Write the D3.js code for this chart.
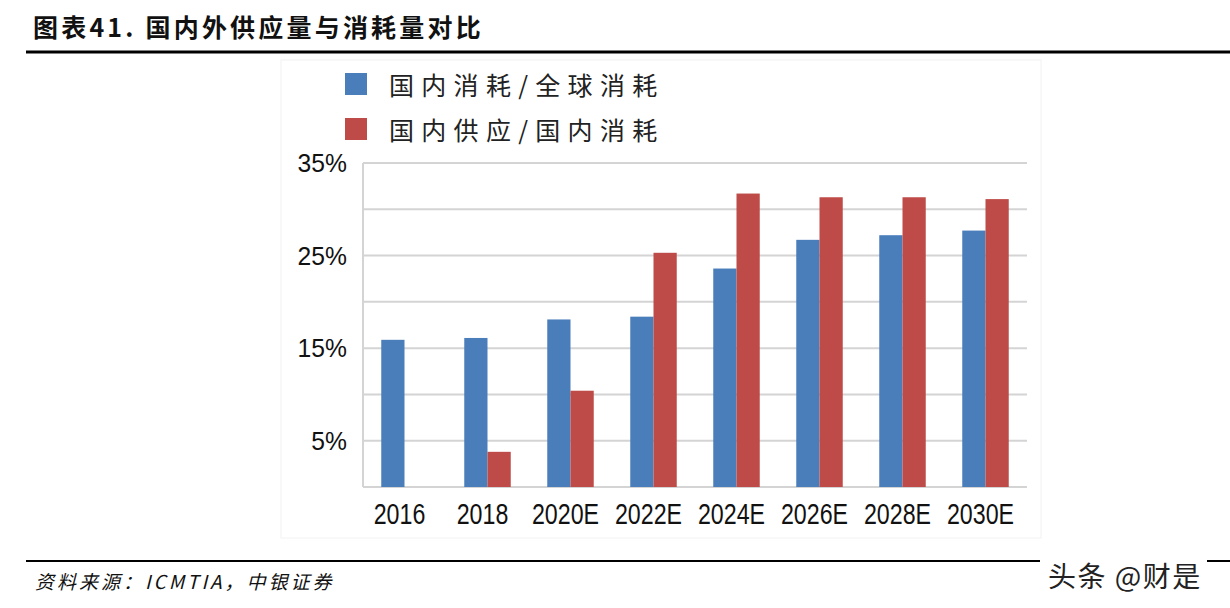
<!DOCTYPE html>
<html>
<head>
<meta charset="utf-8">
<title>国内外供应量与消耗量对比</title>
<script src="https://d3js.org/d3.v7.min.js"></script>
<style type="text/css">
  body { margin: 0; background: white; }
  #chart { position: absolute; top: 0; left: 0; }
  text { font-family: "Liberation Sans", Arial, sans-serif; }
  .cjk { font-family: "Noto Sans CJK SC", sans-serif; }
</style>
</head>
<body>
<div id="chart"></div>
<script type="text/javascript">

var years = ["2016", "2018", "2020E", "2022E", "2024E", "2026E", "2028E", "2030E"];
var domesticShare = [15.9, 16.1, 18.1, 18.4, 23.6, 26.7, 27.2, 27.7];   // 国内消耗/全球消耗
var selfSupply = [null, 3.8, 10.4, 25.3, 31.7, 31.3, 31.3, 31.1];      // 国内供应/国内消耗
var seriesNames = ["国内消耗/全球消耗", "国内供应/国内消耗"];
var seriesColors = ["#4a7ebb", "#be4b48"];
var yLabelTicks = [5, 15, 25, 35];
var yGridTicks = [0, 5, 10, 15, 20, 25, 30, 35];

var width = 1230,
    height = 608;

var svg = d3.select("#chart")
            .append("svg")
            .attr("width", width)
            .attr("height", height);

svg.append("rect")
   .attr("width", width)
   .attr("height", height)
   .attr("fill", "white");

// title + rule
svg.append("text")
   .attr("class", "cjk")
   .attr("x", 33)
   .attr("y", 37)
   .attr("font-size", 25)
   .attr("font-weight", "bold")
   .attr("letter-spacing", 3.2)
   .attr("fill", "#111")
   .text("图表41. 国内外供应量与消耗量对比");

svg.append("line")
   .attr("x1", 26).attr("x2", width)
   .attr("y1", 52).attr("y2", 52)
   .attr("stroke", "black").attr("stroke-width", 3);

// faint frame of the pasted chart
svg.append("rect")
   .attr("x", 281).attr("y", 60)
   .attr("width", 760).attr("height", 478)
   .attr("fill", "none")
   .attr("stroke", "#f2f2f2");

var x = d3.scaleBand()
          .domain(years)
          .range([363, 1027])
          .paddingInner(0.44)
          .paddingOuter(0.22);

var xSub = d3.scaleBand()
             .domain([0, 1])
             .range([0, x.bandwidth()]);

var y = d3.scaleLinear()
          .domain([0, 35])
          .range([487, 163]);

// gridlines
svg.append("g")
   .selectAll("line")
   .data(yGridTicks)
   .enter()
   .append("line")
   .attr("x1", 363).attr("x2", 1027)
   .attr("y1", function(d){return y(d)})
   .attr("y2", function(d){return y(d)})
   .attr("stroke", "#d4d4d4")
   .attr("stroke-width", 2);

svg.append("line")
   .attr("x1", 363).attr("x2", 363)
   .attr("y1", y(35)).attr("y2", y(0))
   .attr("stroke", "#d4d4d4")
   .attr("stroke-width", 2);

// bars
var series = [domesticShare, selfSupply];
series.forEach(function(vals, i){
  svg.append("g")
     .selectAll("rect")
     .data(years.map(function(yr, j){return {year: yr, v: vals[j]}}).filter(function(d){return d.v != null}))
     .enter()
     .append("rect")
     .attr("x", function(d){return x(d.year) + xSub(i)})
     .attr("width", xSub.bandwidth())
     .attr("y", function(d){return y(d.v)})
     .attr("height", function(d){return y(0) - y(d.v)})
     .attr("fill", seriesColors[i]);
});

// y labels (slightly condensed)
svg.append("g")
   .selectAll("g")
   .data(yLabelTicks)
   .enter()
   .append("g")
   .attr("transform", function(d){return "translate(347," + (y(d) + 9) + ") scale(0.95,1)"})
   .append("text")
   .attr("text-anchor", "end")
   .attr("font-size", 26)
   .attr("fill", "#111")
   .text(function(d){return d + "%"});

// x labels (condensed)
svg.append("g")
   .selectAll("g")
   .data(years)
   .enter()
   .append("g")
   .attr("transform", function(d){return "translate(" + (x(d) + x.bandwidth()/2 - 5) + ",524) scale(0.8,1)"})
   .append("text")
   .attr("text-anchor", "middle")
   .attr("font-size", 29)
   .attr("fill", "#111")
   .text(function(d){return d});

// legend
var legend = svg.append("g")
                .selectAll("g")
                .data(seriesNames)
                .enter()
                .append("g")
                .attr("transform", function(d, i){return "translate(345," + (84 + i*45) + ")"});

legend.append("rect")
      .attr("x", 0).attr("y", -11)
      .attr("width", 22).attr("height", 22)
      .attr("fill", function(d, i){return seriesColors[i]});

legend.append("text")
      .attr("class", "cjk")
      .attr("x", 44)
      .attr("y", 11)
      .attr("font-size", 25)
      .attr("letter-spacing", 7.3)
      .attr("fill", "#222")
      .text(function(d){return d});

// source rule, with a gap for the watermark
svg.append("line")
   .attr("x1", 26).attr("x2", 1040)
   .attr("y1", 561).attr("y2", 561)
   .attr("stroke", "black").attr("stroke-width", 2);
svg.append("line")
   .attr("x1", 1207).attr("x2", width)
   .attr("y1", 561).attr("y2", 561)
   .attr("stroke", "black").attr("stroke-width", 2);

svg.append("text")
   .attr("class", "cjk")
   .attr("x", 35)
   .attr("y", 589)
   .attr("font-size", 19)
   .attr("font-style", "italic")
   .attr("letter-spacing", 3)
   .attr("fill", "#111")
   .text("资料来源：ICMTIA，中银证券");

svg.append("text")
   .attr("class", "cjk")
   .attr("x", 1048)
   .attr("y", 587)
   .attr("font-size", 28)
   .attr("letter-spacing", 1.5)
   .attr("fill", "#222")
   .attr("stroke", "white")
   .attr("stroke-width", 3)
   .attr("paint-order", "stroke")
   .text("头条 @财是");

</script>
</body>
</html>
